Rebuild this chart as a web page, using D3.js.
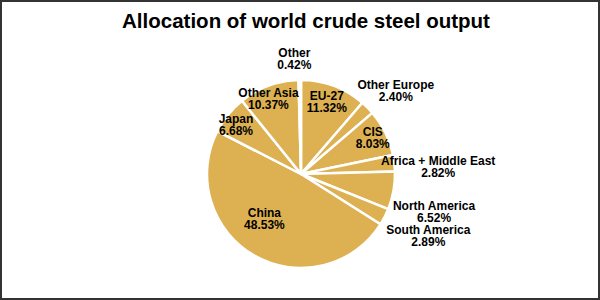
<!DOCTYPE html>
<html>
<head>
<meta charset="utf-8">
<script src="https://cdn.jsdelivr.net/npm/d3@7"></script>
<style>
  body { margin: 0; background: #fff; }
  svg { display: block; font-family: "Liberation Sans", Arial, sans-serif; }
</style>
</head>
<body>
<div id="chart"></div>
<script>
// data, clockwise from 12 o'clock
var regions = ["EU-27", "Other Europe", "CIS", "Africa + Middle East", "North America",
               "South America", "China", "Japan", "Other Asia", "Other"];
var shares = [11.32, 2.40, 8.03, 2.82, 6.52, 2.89, 48.53, 6.68, 10.37, 0.42];

var width = 600, height = 300;
var cx = 301, cy = 174, radius = 94;

// which labels sit outside the pie, and small nudges to mimic the original placement
var outside = ["Other", "Other Europe", "Africa + Middle East", "North America", "South America"];
var nudge = {
  "EU-27": [-2, 3], "CIS": [0, -1], "Japan": [-3, 1], "Other Asia": [-5, 0], "China": [3, -25],
  "Other": [-5, 9], "Other Europe": [7, 4], "Africa + Middle East": [14, 7],
  "North America": [11, 16], "South America": [17, 5]
};

var data = regions.map((r, i) => ({ name: r, value: shares[i] }));

var svg = d3.select("#chart")
  .append("svg")
    .attr("width", width)
    .attr("height", height);

svg.append("rect")
  .attr("x", 1).attr("y", 1)
  .attr("width", width - 2).attr("height", height - 2)
  .attr("fill", "#fff")
  .attr("stroke", "#333")
  .attr("stroke-width", 2);

svg.append("text")
  .attr("x", width / 2 + 6)
  .attr("y", 28)
  .attr("text-anchor", "middle")
  .attr("font-size", 20.5)
  .attr("font-weight", "bold")
  .attr("fill", "#000")
  .text("Allocation of world crude steel output");

var pie = d3.pie().sort(null).value(d => d.value);
var arcs = pie(data);

var arc = d3.arc().innerRadius(0).outerRadius(radius);
var inLabel = d3.arc().innerRadius(radius * 0.85).outerRadius(radius * 0.85);
var outLabel = d3.arc().innerRadius(radius + 30).outerRadius(radius + 30);

var g = svg.append("g")
  .attr("transform", "translate(" + cx + "," + cy + ")");

g.selectAll("path")
  .data(arcs)
  .enter().append("path")
    .attr("d", arc)
    .attr("fill", "#DDB152")
    .attr("stroke", "#fff")
    .attr("stroke-width", 2.5)
    .attr("stroke-linejoin", "round");

var labels = g.selectAll("text.lbl")
  .data(arcs)
  .enter().append("text")
    .attr("class", "lbl")
    .attr("text-anchor", "middle")
    .attr("font-size", 12)
    .attr("font-weight", "bold")
    .attr("fill", "#000")
    .attr("transform", d => {
      var p = (outside.includes(d.data.name) ? outLabel : inLabel).centroid(d);
      var n = nudge[d.data.name];
      return "translate(" + (p[0] + n[0]) + "," + (p[1] + n[1]) + ")";
    });

labels.append("tspan")
  .attr("x", 0).attr("y", -1.8)
  .text(d => d.data.name);

labels.append("tspan")
  .attr("x", 0).attr("y", 10.2)
  .text(d => d3.format(".2f")(d.data.value) + "%");
</script>
</body>
</html>
